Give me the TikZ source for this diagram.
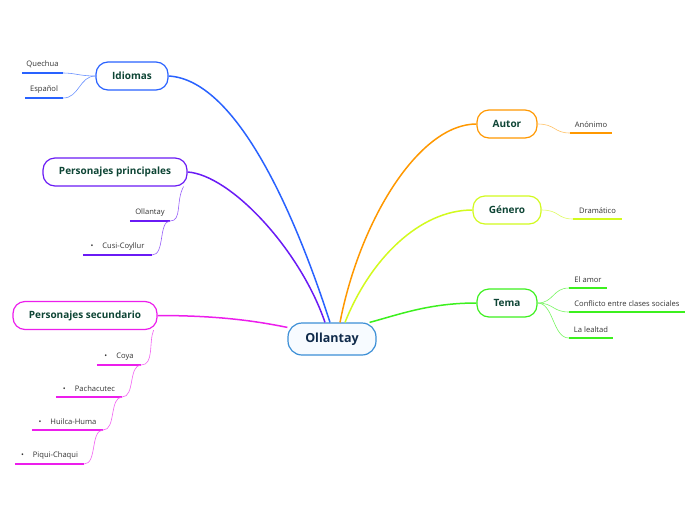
\documentclass[tikz,border=0pt]{standalone}
\usepackage{fontspec}
\setmainfont{Open Sans}
\usetikzlibrary{calc}
\definecolor{mapblue}{HTML}{2962FF}
\definecolor{mappurple}{HTML}{6A1BF5}
\definecolor{mapmagenta}{HTML}{EC1EEC}
\definecolor{maporange}{HTML}{FF9800}
\definecolor{mapyellow}{HTML}{D2FA1E}
\definecolor{mapgreen}{HTML}{3CF01E}
\definecolor{centralblue}{HTML}{3C8FD6}
\definecolor{centralfill}{HTML}{F7FBFF}
\definecolor{titlenavy}{HTML}{0F2A4A}
\definecolor{topicgreen}{HTML}{0E4535}
\definecolor{leafgray}{HTML}{333333}

\begin{document}
\begin{tikzpicture}[x=1pt, y=-1pt,
    central/.style={rectangle, rounded corners=14pt, draw=centralblue, fill=centralfill, line width=1.2pt, minimum width=88pt, minimum height=32pt, font=\fontsize{12.5}{15}\selectfont\bfseries, text=titlenavy},
    topic/.style={rectangle, rounded corners=12pt, fill=white, line width=1.2pt, minimum height=28pt, font=\fontsize{10}{12}\selectfont\bfseries, text=topicgreen},
    leaf/.style={rectangle, inner sep=0pt, minimum height=17pt, anchor=south, font=\fontsize{7.6}{9}\selectfont, text=leafgray},
    branch/.style={line width=1.5pt},
    twig/.style={line width=0.6pt},
    uline/.style={line width=1.8pt}
]
\useasboundingbox (0,0) rectangle (696,520);

\node (Ollantay) [central] at (332,339) {Ollantay};

\node (Idiomas)      [topic, draw=mapblue, minimum width=72pt] at (132,76) {Idiomas};
\node (Principales)  [topic, draw=mappurple, minimum width=144pt] at (115,172) {Personajes principales};
\node (Secundario)   [topic, draw=mapmagenta, minimum width=144pt] at (85,315.5) {Personajes secundario};
\node (Autor)        [topic, draw=maporange, minimum width=60pt] at (507,124) {Autor};
\node (Genero)       [topic, draw=mapyellow, minimum width=68pt] at (507,210) {Género};
\node (Tema)         [topic, draw=mapgreen, minimum width=60pt] at (507,303) {Tema};

% leaves
\node (Quechua)    [leaf, minimum width=41pt] at (42.5,73) {Quechua};
\node (Espanol)    [leaf, minimum width=38pt] at (44,98) {Español};
\node (OllantayP)  [leaf, minimum width=40pt] at (150,221) {Ollantay};
\node (Cusi)       [leaf, minimum width=69pt] at (117.5,255) {\textbullet\hspace{9pt}Cusi-Coyllur};
\node (Coya)       [leaf, minimum width=44pt] at (119,365) {\textbullet\hspace{9pt}Coya};
\node (Pachacutec) [leaf, minimum width=66pt] at (89,397) {\textbullet\hspace{9pt}Pachacutec};
\node (Huilca)     [leaf, minimum width=71pt] at (67.5,430) {\textbullet\hspace{9pt}Huilca-Huma};
\node (Piqui)      [leaf, minimum width=69pt] at (49.5,464) {\textbullet\hspace{9pt}Piqui-Chaqui};
\node (Anonimo)    [leaf, minimum width=42pt] at (591,133) {Anónimo};
\node (Dramatico)  [leaf, minimum width=49pt] at (597.5,219) {Dramático};
\node (Amor)       [leaf, minimum width=38pt] at (588,288) {El amor};
\node (Conflicto)  [leaf, minimum width=116pt] at (627,312) {Conflicto entre clases sociales};
\node (Lealtad)    [leaf, minimum width=44pt] at (591,338) {La lealtad};

% underlines
\draw [uline, mapblue] (Quechua.south west) -- (Quechua.south east);
\draw [uline, mapblue] (Espanol.south west) -- (Espanol.south east);
\draw [uline, mappurple] (OllantayP.south west) -- (OllantayP.south east);
\draw [uline, mappurple] (Cusi.south west) -- (Cusi.south east);
\draw [uline, mapmagenta] (Coya.south west) -- (Coya.south east);
\draw [uline, mapmagenta] (Pachacutec.south west) -- (Pachacutec.south east);
\draw [uline, mapmagenta] (Huilca.south west) -- (Huilca.south east);
\draw [uline, mapmagenta] (Piqui.south west) -- (Piqui.south east);
\draw [uline, maporange] (Anonimo.south west) -- (Anonimo.south east);
\draw [uline, mapyellow] (Dramatico.south west) -- (Dramatico.south east);
\draw [uline, mapgreen] (Amor.south west) -- (Amor.south east);
\draw [uline, mapgreen] (Conflicto.south west) -- (Conflicto.south east);
\draw [uline, mapgreen] (Lealtad.south west) -- (Lealtad.south east);

% main branches
\draw [branch, mapblue] (Idiomas.east) .. controls +(72,4) and +(-30,-93) .. ([xshift=-2pt]Ollantay.north);
\draw [branch, mappurple] (Principales.east) .. controls +(43,3) and +(-25,-73) .. ([xshift=-7pt]Ollantay.north);
\draw [branch, mapmagenta] (Secundario.east) .. controls +(63,0) and +(-30,-6) .. ([yshift=-5pt]Ollantay.north west);
\draw [branch, maporange] (Autor.west) .. controls +(-57,0) and +(20,-103) .. ([xshift=8pt]Ollantay.north);
\draw [branch, mapyellow] (Genero.west) .. controls +(-53,0) and +(25,-63) .. ([xshift=13pt]Ollantay.north);
\draw [branch, mapgreen] (Tema.west) .. controls +(-47,0) and +(30,-8) .. ([xshift=-7pt]Ollantay.north east);

% sub branches
\draw [twig, mapblue!70] (Idiomas.west) .. controls +(-16,0) and +(12,0) .. (Quechua.south east);
\draw [twig, mapblue!70] (Idiomas.west) .. controls +(-16,0) and +(16,0) .. (Espanol.south east);
\draw [twig, mappurple!70] ([xshift=-4pt]Principales.south east) .. controls +(-8,14) and +(12,0) .. (OllantayP.south east);
\draw [twig, mappurple!70] (OllantayP.south east) .. controls +(-12,0) and +(13,0) .. (Cusi.south east);
\draw [twig, mapmagenta!70] ([xshift=-4pt]Secundario.south east) .. controls +(-5,12) and +(13,0) .. (Coya.south east);
\draw [twig, mapmagenta!70] (Coya.south east) .. controls +(-13,0) and +(13,0) .. (Pachacutec.south east);
\draw [twig, mapmagenta!70] (Pachacutec.south east) .. controls +(-13,0) and +(13,0) .. (Huilca.south east);
\draw [twig, mapmagenta!70] (Huilca.south east) .. controls +(-13,0) and +(13,0) .. (Piqui.south east);
\draw [twig, maporange!60] (Autor.east) .. controls +(18,0) and +(-16,0) .. (Anonimo.south west);
\draw [twig, mapyellow!70] (Genero.east) .. controls +(18,0) and +(-16,0) .. (Dramatico.south west);
\draw [twig, mapgreen!70] (Tema.east) .. controls +(16,0) and +(-16,0) .. (Amor.south west);
\draw [twig, mapgreen!70] (Tema.east) .. controls +(16,0) and +(-16,0) .. (Conflicto.south west);
\draw [twig, mapgreen!70] (Tema.east) .. controls +(16,0) and +(-16,0) .. (Lealtad.south west);

\end{tikzpicture}
\end{document}
